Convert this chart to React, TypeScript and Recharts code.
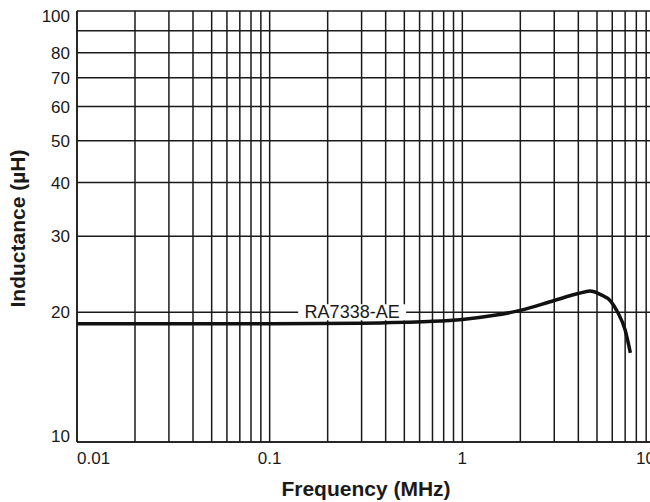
import { LineChart, Line, XAxis, YAxis, CartesianGrid, ReferenceDot } from 'recharts';

// frequency (MHz) vs inductance (µH)
const freqMHz = [0.01, 0.1, 0.3, 0.5, 0.7, 1, 1.5, 2, 3, 4, 4.6, 5.2, 5.9, 6.4, 7.0, 7.45];
const inductance = [18.8, 18.8, 18.85, 18.95, 19.05, 19.25, 19.7, 20.2, 21.3, 22.1, 22.4, 22.0, 21.2, 20.0, 18.2, 16.1];

const xTicks = [
  0.01, 0.02, 0.03, 0.04, 0.05, 0.06, 0.07, 0.08, 0.09,
  0.1, 0.2, 0.3, 0.4, 0.5, 0.6, 0.7, 0.8, 0.9,
  1, 2, 3, 4, 5, 6, 7, 8, 9, 10,
];
const xLabels = [0.01, 0.1, 1, 10];
const yTicks = [10, 20, 30, 40, 50, 60, 70, 80, 90, 100];
const yHidden = [90];

const seriesName = 'RA7338-AE';
const labelAt = { x: 0.268, y: 20 };

const data = freqMHz.map((f, i) => ({ f, l: inductance[i] }));

const FONT = '"Liberation Sans", Arial, Helvetica, sans-serif';
const INK = '#1a1a1a';

function XTick({ x, y, payload }: any) {
  const v = payload.value;
  if (!xLabels.includes(v)) return null;
  // first and last labels are pulled inside the plot edges
  const anchor = v === 0.01 ? 'start' : v === 10 ? 'end' : 'middle';
  return (
    <text x={x} y={y + 14} textAnchor={anchor} fontSize={17} fill={INK} fontFamily={FONT}>
      {String(v)}
    </text>
  );
}

function YTick({ x, y, payload }: any) {
  const v = payload.value;
  if (yHidden.includes(v)) return null;
  let dy = 6;
  if (v === 100) dy = 11;
  if (v === 10) dy = 0;
  return (
    <text x={x + 1} y={y + dy} textAnchor="end" fontSize={17} fill={INK} fontFamily={FONT}>
      {v}
    </text>
  );
}

function SeriesTag({ cx, cy }: any) {
  return (
    <g>
      <rect x={cx - 54} y={cy - 8} width={108} height={16} fill="#fff" />
      <text x={cx} y={cy + 6} textAnchor="middle" fontSize={18} fill={INK} fontFamily={FONT}>
        {seriesName}
      </text>
    </g>
  );
}

export default function App() {
  return (
    <div style={{ position: 'absolute', left: 0, top: 0, width: 650, height: 502, overflow: 'hidden', background: '#fff' }}>
      <LineChart width={660} height={502} data={data} margin={{ top: 11, right: 5, bottom: 0, left: 0 }}>
        <CartesianGrid stroke={INK} strokeWidth={1.5} />
        <XAxis
          dataKey="f"
          type="number"
          scale="log"
          domain={[0.01, 10]}
          ticks={xTicks}
          interval={0}
          allowDataOverflow
          height={60}
          tickLine={false}
          axisLine={{ stroke: INK, strokeWidth: 1.5 }}
          tick={<XTick />}
          label={{
            content: ({ viewBox }: any) => (
              <text
                x={viewBox.x + viewBox.width / 2}
                y={viewBox.y + 54}
                textAnchor="middle"
                fontSize={21}
                fontWeight="bold"
                fill={INK}
                fontFamily={FONT}
              >
                Frequency (MHz)
              </text>
            ),
          }}
        />
        <YAxis
          type="number"
          scale="log"
          domain={[10, 100]}
          ticks={yTicks}
          interval={0}
          allowDataOverflow
          width={77}
          tickLine={false}
          axisLine={{ stroke: INK, strokeWidth: 1.5 }}
          tick={<YTick />}
          label={{
            content: ({ viewBox }: any) => {
              const cx = viewBox.x + 25;
              const cy = viewBox.y + viewBox.height / 2 + 2;
              return (
                <text
                  x={cx}
                  y={cy}
                  transform={`rotate(-90 ${cx} ${cy})`}
                  textAnchor="middle"
                  fontSize={21}
                  fontWeight="bold"
                  fill={INK}
                  fontFamily={FONT}
                >
                  Inductance (µH)
                </text>
              );
            },
          }}
        />
        <ReferenceDot x={labelAt.x} y={labelAt.y} r={0} shape={<SeriesTag />} />
        <Line
          type="monotone"
          dataKey="l"
          stroke="#111"
          strokeWidth={3.5}
          dot={false}
          isAnimationActive={false}
        />
      </LineChart>
    </div>
  );
}
